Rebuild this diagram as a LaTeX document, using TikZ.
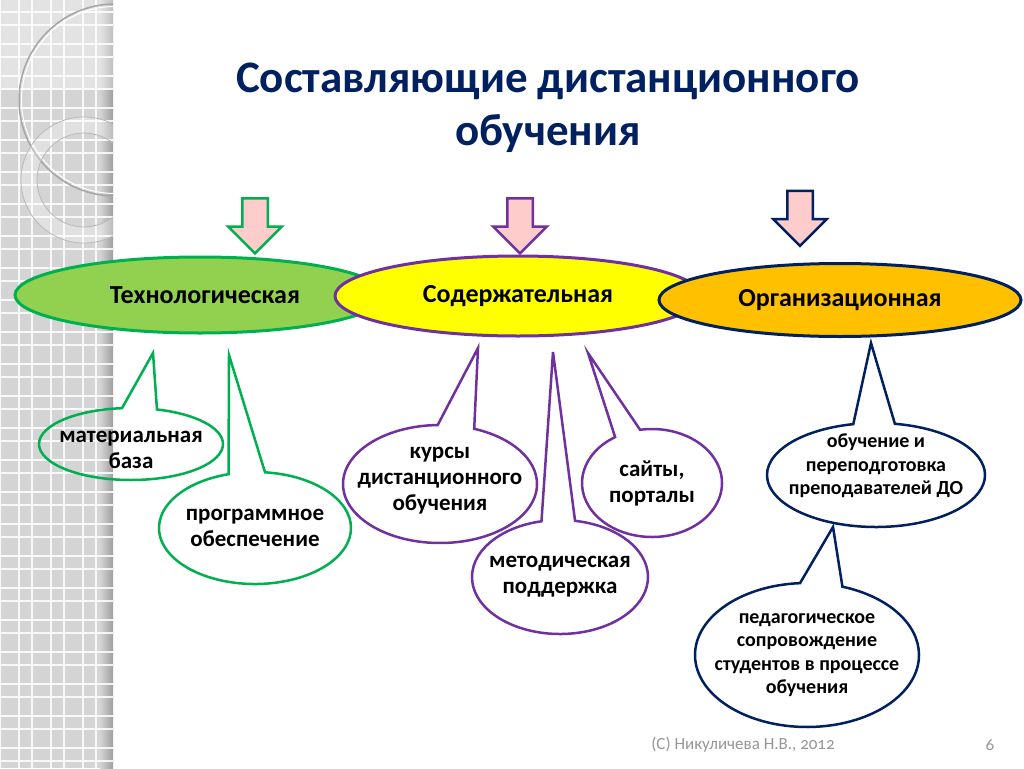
\documentclass[tikz,border=0pt]{standalone}
\usepackage{fontspec}
\setmainfont{Carlito}
\newfontfamily\footfont[Numbers=OldStyle]{Carlito}
\usetikzlibrary{positioning,shapes.geometric,shapes.callouts,shapes.arrows}

\definecolor{grn}{RGB}{0,176,80}
\definecolor{lgrn}{RGB}{146,208,80}
\definecolor{ylw}{RGB}{255,255,0}
\definecolor{prp}{RGB}{112,48,160}
\definecolor{org}{RGB}{255,192,0}
\definecolor{nvy}{RGB}{0,32,96}
\definecolor{pnk}{RGB}{255,204,204}
\definecolor{strip}{RGB}{212,212,212}
\definecolor{ftgray}{RGB}{150,150,150}

\begin{document}
\begin{tikzpicture}[x=1pt,y=-1pt,
  main/.style={ellipse, line width=3pt, inner sep=0pt, font=\fontsize{26}{30}\selectfont\bfseries},
  bubble/.style={ellipse callout, line width=2.5pt, inner sep=0pt, callout pointer arc=22},
  btext/.style={font=\fontsize{23}{26}\selectfont\bfseries, align=center},
  stext/.style={font=\fontsize{20}{23.5}\selectfont\bfseries, align=center},
  blockarrow/.style={single arrow, shape border rotate=270, fill=pnk, line width=2.5pt,
    inner sep=11.5pt, single arrow head extend=14pt, minimum height=55pt, minimum width=51pt},
  title/.style={font=\fontsize{45}{53}\selectfont\bfseries, text=nvy, align=center},
  foot/.style={font=\footfont\fontsize{17}{20}\selectfont, text=ftgray}]

\useasboundingbox (0,0) rectangle (1024,768);
\fill[white] (0,0) rectangle (1024,768);

% left strip
\fill[strip] (0,0) rectangle (113,768);
\shade[left color=strip, right color=strip!75!black] (100,0) rectangle (113,768);
\foreach \k in {0,...,3} {
  \foreach \d in {0,19} {
    \draw[white, line width=2pt, opacity=.85] (32*\k+\d,0) -- (32*\k+\d,768);
  }
}
\foreach \k in {0,...,23} {
  \foreach \d in {12,25} {
    \draw[white, line width=2pt, opacity=.85] (0,32*\k+\d) -- (113,32*\k+\d);
  }
}
\begin{scope}
\clip (0,0) rectangle (113,768);
\fill[white, opacity=.35] (0,0) rectangle (113,90);
\draw[gray!70, line width=1.5pt] (115,100) circle (96);
\draw[white, line width=1pt] (115,100) circle (93.5);
\fill[white, opacity=.3, even odd rule] (84,180) circle (63) (84,180) circle (47);
\draw[gray!55, line width=.8pt] (84,180) circle (63);
\draw[gray!55, line width=.8pt] (84,180) circle (47);
\end{scope}

% title
\node[title] (T) at (548,108) {Составляющие дистанционного\\обучения};

% arrows
\node[blockarrow, draw=grn] (A1) at (255,219.5) {};
\node[blockarrow, draw=prp] (A2) at (520,219.5) {};
\node[blockarrow, draw=nvy] (A3) at (800,212) {};

% main ellipses
\node[main, draw=grn, fill=lgrn, minimum width=370, minimum height=76] (E1) at (200,295) {\hspace{10pt}Технологическая};
\node[main, draw=prp, fill=ylw, minimum width=366, minimum height=80] (E2) at (518,296) {Содержательная};
\node[main, draw=nvy, fill=org, minimum width=362, minimum height=73] (E3) at (840,300) {Организационная};

% pointer tips
\coordinate (P1) at (153,353);
\coordinate (P2) at (229,355);
\coordinate (P3) at (478,348);
\coordinate (P4) at (553,352);
\coordinate (P5) at (588,353);
\coordinate (P6) at (871,343);
\coordinate (P7) at (833,527);

% bubbles
\node[bubble, draw=grn, minimum width=184, minimum height=72, callout absolute pointer={(P1)},
  label={[btext, yshift=-6pt]center:материальная\\база}] (B1) at (131,444) {};
\node[bubble, draw=grn, minimum width=192, minimum height=112, callout absolute pointer={(P2)},
  label={[btext]center:программное\\обеспечение}] (B2) at (255,528) {};
\node[bubble, draw=prp, minimum width=194, minimum height=118, callout absolute pointer={(P3)},
  label={[btext, yshift=3pt]center:курсы\\дистанционного\\обучения}] (B3) at (440,484) {};
\node[bubble, draw=prp, minimum width=176, minimum height=114, callout absolute pointer={(P4)},
  label={[btext]center:методическая\\поддержка}] (B4) at (560,577) {};
\node[bubble, draw=prp, minimum width=140, minimum height=108, callout absolute pointer={(P5)},
  label={[btext]center:сайты,\\порталы}] (B5) at (652,483) {};
\node[bubble, draw=nvy, minimum width=218, minimum height=104, callout absolute pointer={(P6)},
  label={[stext, yshift=9pt]center:обучение и\\переподготовка\\преподавателей ДО}] (B6) at (876,475) {};
\node[bubble, draw=nvy, minimum width=224, minimum height=144, callout absolute pointer={(P7)},
  label={[stext]center:педагогическое\\сопровождение\\студентов в процессе\\обучения}] (B7) at (807,655) {};

% footer
\node[foot] (F) at (743,745) {(C) Никуличева Н.В., 2012};
\node[foot] (N) at (990,745) {6};

\end{tikzpicture}
\end{document}
